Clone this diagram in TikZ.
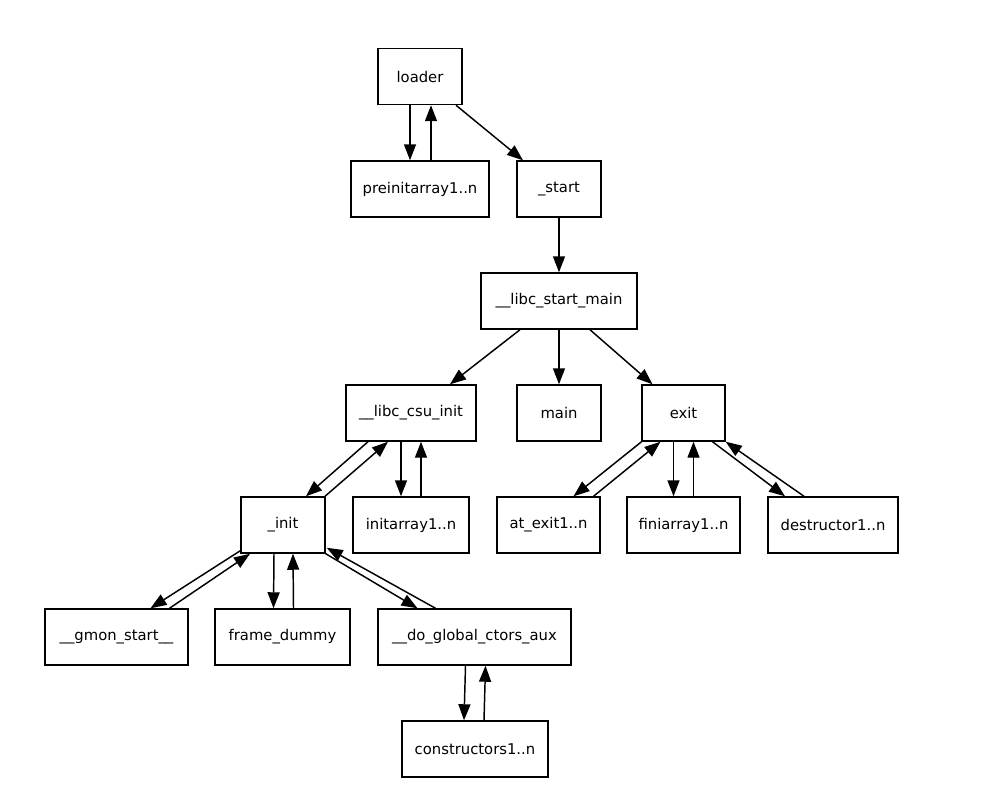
\documentclass[tikz,border=0pt]{standalone}
\usepackage{fontspec}
\setmainfont{DejaVu Sans}
\usetikzlibrary{arrows.meta,calc}

\begin{document}
\begin{tikzpicture}[
    x=0.75pt, y=-0.75pt,
    font=\fontsize{11.1}{13}\selectfont,
    fn/.style={draw, rectangle, line width=1.1pt, minimum height=42pt, inner sep=2pt, minimum width=#1*0.75pt},
    call/.style={-{Triangle[length=12pt,width=9pt]}, line width=1.1pt}
]
    \useasboundingbox (0,0) rectangle (988,801);

    \node[fn=84]  (loader)  at (420,76.5) {loader};
    \node[fn=138] (preinit) at (420,189)  {preinitarray1..n};
    \node[fn=84]  (start)   at (559,189)  {\_start};
    \node[fn=156] (lsm)     at (559,301)  {\_\_libc\_start\_main};
    \node[fn=130] (csu)     at (411,413)  {\_\_libc\_csu\_init};
    \node[fn=84]  (main)    at (559,413)  {main};
    \node[fn=83]  (exit)    at (683.5,413) {exit};
    \node[fn=84]  (init)    at (283,525)  {\_init};
    \node[fn=116] (initarr) at (411,525)  {initarray1..n};
    \node[fn=103] (atexit)  at (548.5,525) {at\_exit1..n};
    \node[fn=113] (finiarr) at (683.5,525) {finiarray1..n};
    \node[fn=130] (destr)   at (833,525)  {destructor1..n};
    \node[fn=143] (gmon)    at (116.5,637) {\_\_gmon\_start\_\_};
    \node[fn=135] (frame)   at (282.5,637) {frame\_dummy};
    \node[fn=193] (ctors)   at (474.5,637) {\_\_do\_global\_ctors\_aux};
    \node[fn=146] (cons)    at (475,749)  {constructors1..n};

    \draw[call] ($(loader.south)+(-10,0)$) -- ($(preinit.north)+(-10,0)$);
    \draw[call] ($(preinit.north)+(11,0)$) -- ($(loader.south)+(11,0)$);
    \draw[call] ($(loader.south)+(36,0)$) -- ($(start.north)+(-36,0)$);
    \draw[call] (start) -- (lsm);

    \draw[call] ($(lsm.south)+(-39,0)$) -- ($(csu.north)+(39,0)$);
    \draw[call] (lsm) -- (main);
    \draw[call] ($(lsm.south)+(31,0)$) -- ($(exit.north)+(-31,0)$);

    \draw[call] ($(csu.south)+(-43,0)$) -- ($(init.north)+(23,0)$);
    \draw[call] ($(init.north)+(42,0)$) -- ($(csu.south)+(-23,0)$);
    \draw[call] ($(csu.south)+(-10,0)$) -- ($(initarr.north)+(-10,0)$);
    \draw[call] ($(initarr.north)+(10,0)$) -- ($(csu.south)+(10,0)$);

    \draw[call] ($(exit.south)+(-42,0)$) -- ($(atexit.north)+(25,0)$);
    \draw[call] ($(atexit.north)+(45,0)$) -- ($(exit.south)+(-23,0)$);
    \draw[call] ($(exit.south)+(-10,0)$) -- ($(finiarr.north)+(-10,0)$);
    \draw[call] ($(finiarr.north)+(10,0)$) -- ($(exit.south)+(10,0)$);
    \draw[call] ($(exit.south)+(29,0)$) -- ($(destr.north)+(-48,0)$);
    \draw[call] ($(destr.north)+(-29,0)$) -- ($(exit.south east)+(0,0)$);

    \draw[call] ($(init.south west)+(0,-3)$) -- ($(gmon.north)+(34,0)$);
    \draw[call] ($(gmon.north)+(53,0)$) -- ($(init.south)+(-33,0)$);
    \draw[call] ($(init.south)+(-9,0)$) -- ($(frame.north)+(-9,0)$);
    \draw[call] ($(frame.north)+(11,0)$) -- ($(init.south)+(10,0)$);
    \draw[call] (init.south east) -- ($(ctors.north)+(-57,0)$);
    \draw[call] ($(ctors.north)+(-39,0)$) -- ($(init.south east)+(1,-6)$);

    \draw[call] ($(ctors.south)+(-9,0)$) -- ($(cons.north)+(-11,0)$);
    \draw[call] ($(cons.north)+(9,0)$) -- ($(ctors.south)+(11,0)$);
\end{tikzpicture}
\end{document}
